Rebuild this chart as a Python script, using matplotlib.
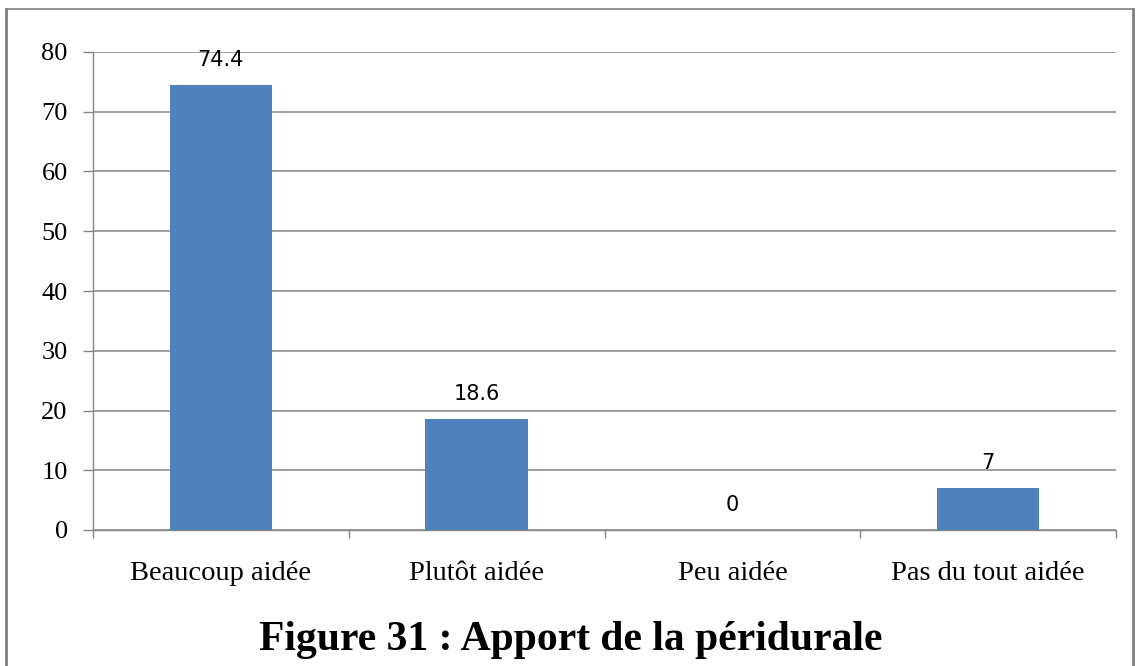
import matplotlib
matplotlib.use("Agg")
import matplotlib.pyplot as plt
import numpy as np
from matplotlib.lines import Line2D

categories = ["Beaucoup aidée", "Plutôt aidée", "Peu aidée", "Pas du tout aidée"]
values = [74.4, 18.6, 0, 7]
value_labels = ["74.4", "18.6", "0", "7"]
yticks = [0, 10, 20, 30, 40, 50, 60, 70, 80]
title = "Figure 31 : Apport de la péridurale"

W, H = 1141, 666
fig = plt.figure(figsize=(W / 100, H / 100), dpi=100)
fig.patch.set_facecolor("white")

ax = fig.add_axes([93 / W, 1 - 530 / H, (1116 - 93) / W, (530 - 52) / H])
x = np.arange(len(categories))
ax.bar(x, values, width=0.40, color="#4F81BD", zorder=3)
ax.set_xlim(-0.5, len(categories) - 0.5)
ax.set_ylim(0, 80)

grid_col = "#868686"
ax.set_yticks(yticks)
ax.set_yticklabels([str(t) for t in yticks], family="Liberation Serif", fontsize=19)
ax.yaxis.grid(True, color=grid_col, linewidth=1.1, zorder=0)
ax.tick_params(axis="y", length=7.2, width=1.0, color=grid_col, pad=11)

ax.set_xticks(x)
ax.set_xticklabels(categories, family="Liberation Serif", fontsize=20.5)
ax.set_xticks(np.arange(-0.5, len(categories)), minor=True)
ax.tick_params(axis="x", which="major", length=0, pad=22)
ax.tick_params(axis="x", which="minor", length=6, width=1.0, color=grid_col)

for s in ["top", "right"]:
    ax.spines[s].set_visible(False)
for s in ["left", "bottom"]:
    ax.spines[s].set_color(grid_col)
    ax.spines[s].set_linewidth(1.0)

for xi, v, lab in zip(x, values, value_labels):
    ax.annotate(lab, (xi, v), xytext=(0, 18), textcoords="offset points",
                ha="center", va="center", fontsize=15, family="DejaVu Sans",
                color="#000000")

fig.text(0.5, 1 - 640 / H, title, ha="center", va="center",
         family="Liberation Serif", fontweight="bold", fontsize=30)

# outer frame (left, top, right)
fc = "#7f7f7f"
fig.add_artist(Line2D([6 / W, 6 / W], [0, 1 - 9 / H], transform=fig.transFigure, color=fc, linewidth=2))
fig.add_artist(Line2D([6 / W, 1133 / W], [1 - 9 / H, 1 - 9 / H], transform=fig.transFigure, color=fc, linewidth=1.2))
fig.add_artist(Line2D([1133 / W, 1133 / W], [0, 1 - 9 / H], transform=fig.transFigure, color=fc, linewidth=2))

fig.savefig("out.png", dpi=100)
